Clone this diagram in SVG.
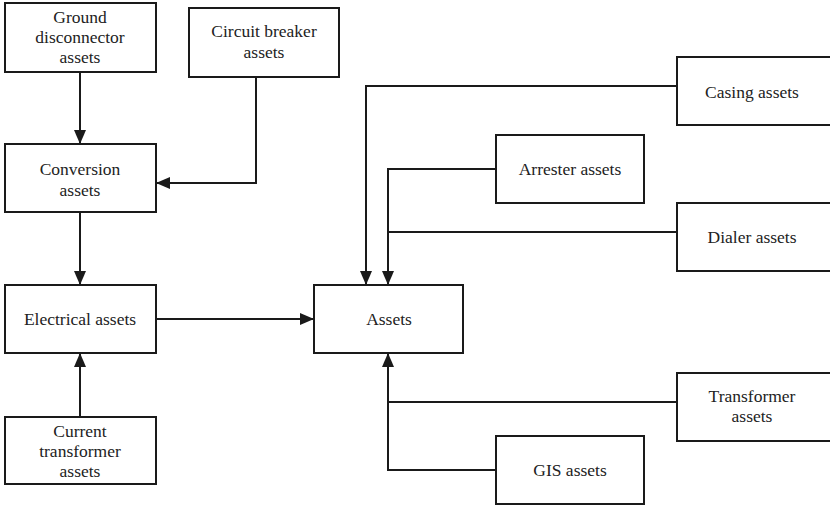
<svg xmlns="http://www.w3.org/2000/svg" width="830" height="506" viewBox="0 0 830 506">
<style>
.box{fill:#fff;stroke:#1a1a1a;stroke-width:2}
.t{font-family:"Liberation Serif","Times New Roman",serif;font-size:17.5px;fill:#222;text-anchor:middle}
.c{fill:none;stroke:#1a1a1a;stroke-width:2}
</style>
<defs>
<marker id="ah" markerWidth="14" markerHeight="14" refX="13" refY="7" orient="auto" markerUnits="userSpaceOnUse">
<path d="M0,1 L14,7 L0,13 Z" fill="#1a1a1a"/>
</marker>
</defs>
<g id="connectors">
<path class="c" d="M80,72 V143" marker-end="url(#ah)"/>
<path class="c" d="M256,77 V183 H157" marker-end="url(#ah)"/>
<path class="c" d="M80,212 V284" marker-end="url(#ah)"/>
<path class="c" d="M80,417 V354" marker-end="url(#ah)"/>
<path class="c" d="M156,319 H313" marker-end="url(#ah)"/>
<path class="c" d="M677,86 H366 V284" marker-end="url(#ah)"/>
<path class="c" d="M496,169 H388 V284" marker-end="url(#ah)"/>
<path class="c" d="M677,232 H388"/>
<path class="c" d="M496,470 H388 V354" marker-end="url(#ah)"/>
<path class="c" d="M677,402 H388"/>
</g>
<g id="ground"><rect class="box" x="5" y="3" width="151" height="69"/>
<text class="t" x="80" y="23">Ground</text><text class="t" x="80" y="43">disconnector</text><text class="t" x="80" y="63">assets</text></g>
<g id="breaker"><rect class="box" x="189" y="8" width="150" height="69"/>
<text class="t" x="264" y="37">Circuit breaker</text><text class="t" x="264" y="58">assets</text></g>
<g id="conversion"><rect class="box" x="5" y="144" width="151" height="68"/>
<text class="t" x="80" y="175">Conversion</text><text class="t" x="80" y="196">assets</text></g>
<g id="electrical"><rect class="box" x="5" y="285" width="151" height="68"/>
<text class="t" x="80" y="325">Electrical assets</text></g>
<g id="current"><rect class="box" x="5" y="417" width="151" height="67"/>
<text class="t" x="80" y="437">Current</text><text class="t" x="80" y="457">transformer</text><text class="t" x="80" y="477">assets</text></g>
<g id="assets"><rect class="box" x="314" y="285" width="149" height="68"/>
<text class="t" x="389" y="325">Assets</text></g>
<g id="casing"><rect class="box" x="677" y="57" width="160" height="68"/>
<text class="t" x="752" y="98">Casing assets</text></g>
<g id="arrester"><rect class="box" x="496" y="135" width="148" height="68"/>
<text class="t" x="570" y="175">Arrester assets</text></g>
<g id="dialer"><rect class="box" x="677" y="203" width="160" height="68"/>
<text class="t" x="752" y="243">Dialer assets</text></g>
<g id="transformer"><rect class="box" x="677" y="373" width="160" height="68"/>
<text class="t" x="752" y="402">Transformer</text><text class="t" x="752" y="422">assets</text></g>
<g id="gis"><rect class="box" x="496" y="436" width="148" height="68"/>
<text class="t" x="570" y="476">GIS assets</text></g>
</svg>
